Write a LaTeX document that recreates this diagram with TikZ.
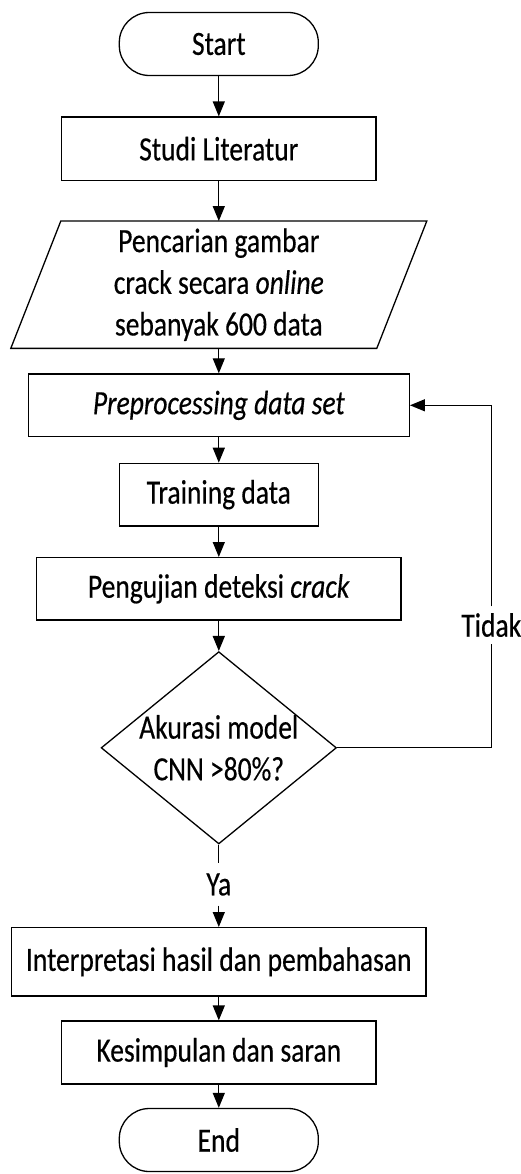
\documentclass[tikz,border=0pt]{standalone}
\usepackage{fontspec}
\setmainfont{Carlito}[FakeStretch=0.81,FakeBold=0.4]
\usetikzlibrary{arrows.meta,shapes.geometric}
\begin{document}
\begin{tikzpicture}[x=1pt,y=-1pt, line width=1.3pt,
  font=\fontsize{34}{41.7}\selectfont,
  box/.style={draw, rectangle, inner sep=0pt, align=center},
  term/.style={draw, rectangle, rounded corners=30pt, inner sep=0pt, minimum width=199pt, minimum height=63pt},
  arr/.style={-{Triangle[length=15pt,width=12pt]}},
  lbl/.style={inner sep=0pt}]
\useasboundingbox (0,0) rectangle (521,1174);
\node[term] (start) at (218.8,44) {Start};
\node[box, minimum width=314.6pt, minimum height=63.3pt] (studi) at (218.8,148.7) {Studi Literatur};
\node[inner sep=0pt, minimum width=314.7pt, minimum height=126pt, align=center] (cari) at (218.8,284.7) {Pencarian gambar\\crack secara \textit{online}\\sebanyak 600 data};
\draw (cari.north west) -- ([xshift=50pt]cari.north east) -- (cari.south east) -- ([xshift=-50pt]cari.south west) -- cycle;
\node[box, minimum width=381pt, minimum height=62.7pt] (prep) at (218.8,405.3) {\textit{Preprocessing data set}};
\node[box, minimum width=199pt, minimum height=62.7pt] (train) at (218.8,494.7) {Training data};
\node[box, minimum width=364.3pt, minimum height=62.3pt] (peng) at (218.8,588.8) {Pengujian deteksi \textit{crack}};
\node[draw, diamond, minimum width=235.3pt, minimum height=192.3pt, inner sep=0pt] (dec) at (218.8,747.8) {};
\node[lbl, align=center] (dect) at (dec) {Akurasi model\\CNN >80\%?};
\node[lbl, minimum height=36pt] (tidak) at (491.3,625) {Tidak};
\node[lbl, minimum height=41pt] (ya) at (218.8,884.5) {Ya};
\node[box, minimum width=414.3pt, minimum height=68.3pt] (interp) at (218.8,961.8) {Interpretasi hasil dan pembahasan};
\node[box, minimum width=314.6pt, minimum height=63pt] (kes) at (218.8,1052.5) {Kesimpulan dan saran};
\node[term] (stop) at (218.8,1140) {End};
\draw[arr] (start) -- (studi);
\draw[arr] (studi) -- (cari);
\draw[arr] (cari) -- (prep);
\draw[arr] (prep) -- (train);
\draw[arr] (train) -- (peng);
\draw[arr] (peng) -- (dec);
\draw (dec.south) -- (ya.north);
\draw[arr] (ya.south) -- (interp.north);
\draw[arr] (interp) -- (kes);
\draw[arr] (kes) -- (stop);
\draw (dec.east) -| (tidak.south);
\draw[arr] (tidak.north) |- (prep.east);
\end{tikzpicture}
\end{document}
